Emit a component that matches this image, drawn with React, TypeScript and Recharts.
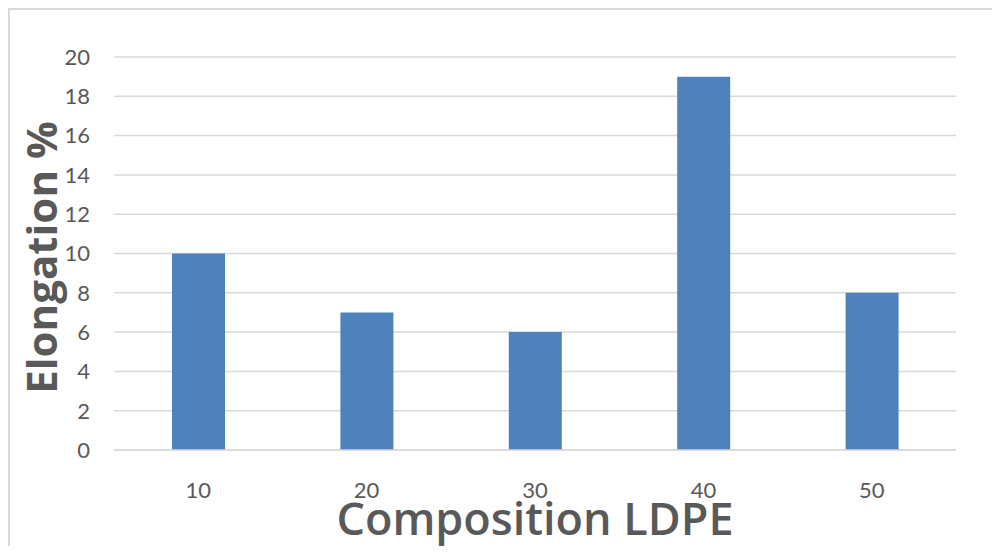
import React from "react";
import { BarChart, Bar, XAxis, YAxis, CartesianGrid, Label } from "recharts";

// LDPE content (%) in the blend
const compositions = ["10", "20", "30", "40", "50"];
// Elongation at break (%)
const elongation = [10, 7, 6, 19, 8];
// Y axis tick values
const yTicks = [0, 2, 4, 6, 8, 10, 12, 14, 16, 18, 20];

const data = compositions.map((c, i) => ({ composition: c, elongation: elongation[i] }));

const TEXT_GREY = "#595959";
const GRID_GREY = "#d9d9d9";
const BAR_BLUE = "#4f81bd";

const tickFont = { fontFamily: "Lato, 'Open Sans', sans-serif", fontSize: 22, fill: TEXT_GREY };

const YTitle = (props: any) => {
  const vb = props.viewBox || {};
  const cx = 57;
  const cy = (vb.y ?? 57) + (vb.height ?? 393) / 2 + 4;
  return (
    <text
      x={cx}
      y={cy}
      transform={`rotate(-90, ${cx}, ${cy})`}
      textAnchor="middle"
      fontFamily="'Open Sans', sans-serif"
      fontWeight={700}
      fontSize={42}
      fill={TEXT_GREY}
    >
      Elongation %
    </text>
  );
};

const XTitle = (props: any) => {
  const vb = props.viewBox || {};
  const cx = (vb.x ?? 114) + (vb.width ?? 842) / 2;
  return (
    <text
      x={cx}
      y={535}
      textAnchor="middle"
      fontFamily="'Open Sans', sans-serif"
      fontWeight={600}
      fontSize={45}
      fill={TEXT_GREY}
    >
      Composition LDPE
    </text>
  );
};

export default function App() {
  return (
    <div
      style={{
        position: "relative",
        width: 1000,
        height: 554,
        margin: -8,
        overflow: "hidden",
        background: "#ffffff",
      }}
    >
      <div
        style={{
          position: "absolute",
          left: 8,
          top: 8,
          width: 1100,
          height: 700,
          borderTop: `2px solid ${GRID_GREY}`,
          borderLeft: `2px solid ${GRID_GREY}`,
          boxSizing: "border-box",
        }}
      />
      <div style={{ position: "absolute", left: 0, top: 0 }}>
        <BarChart
          width={1000}
          height={554}
          data={data}
          margin={{ top: 57, right: 44, bottom: 0, left: 0 }}
          barCategoryGap="34%"
        >
          <CartesianGrid vertical={false} stroke={GRID_GREY} strokeWidth={1.5} />
          <XAxis
            dataKey="composition"
            height={104}
            axisLine={{ stroke: GRID_GREY, strokeWidth: 1.5 }}
            tickLine={false}
            tickMargin={26}
            tick={tickFont}
          >
            <Label content={<XTitle />} />
          </XAxis>
          <YAxis
            width={114}
            domain={[0, 20]}
            ticks={yTicks}
            interval={0}
            axisLine={false}
            tickLine={false}
            tickMargin={18}
            tick={tickFont}
          >
            <Label content={<YTitle />} />
          </YAxis>
          <Bar dataKey="elongation" fill={BAR_BLUE} barSize={53} isAnimationActive={false} />
        </BarChart>
      </div>
    </div>
  );
}
